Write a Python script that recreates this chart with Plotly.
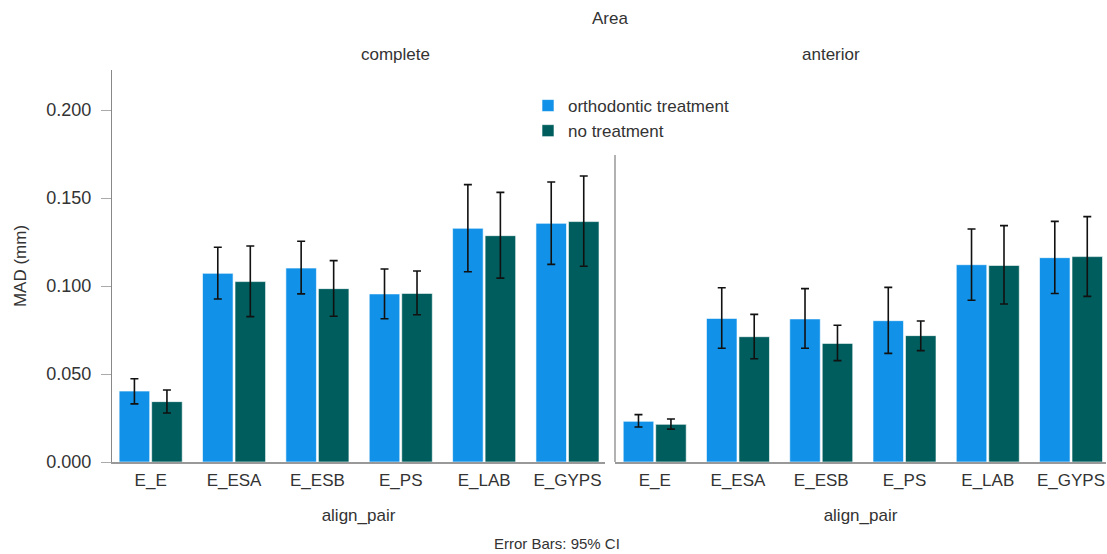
import plotly.graph_objects as go

categories = ["E_E", "E_ESA", "E_ESB", "E_PS", "E_LAB", "E_GYPS"]
series_names = ["orthodontic treatment", "no treatment"]
panel_names = ["complete", "anterior"]

complete_ortho_mean = [0.0403, 0.1072, 0.1102, 0.0955, 0.1328, 0.1356]
complete_ortho_lo = [0.0330, 0.0926, 0.0955, 0.0814, 0.1081, 0.1123]
complete_ortho_hi = [0.0473, 0.1220, 0.1254, 0.1097, 0.1576, 0.1591]
complete_none_mean = [0.0343, 0.1025, 0.0985, 0.0958, 0.1286, 0.1366]
complete_none_lo = [0.0278, 0.0826, 0.0828, 0.0837, 0.1045, 0.1112]
complete_none_hi = [0.0409, 0.1227, 0.1144, 0.1085, 0.1532, 0.1625]

anterior_ortho_mean = [0.0231, 0.0816, 0.0813, 0.0803, 0.1121, 0.1161]
anterior_ortho_lo = [0.0199, 0.0646, 0.0646, 0.0617, 0.0919, 0.0957]
anterior_ortho_hi = [0.0269, 0.0990, 0.0985, 0.0992, 0.1324, 0.1367]
anterior_none_mean = [0.0214, 0.0712, 0.0674, 0.0718, 0.1117, 0.1167]
anterior_none_lo = [0.0187, 0.0587, 0.0576, 0.0633, 0.0898, 0.0941]
anterior_none_hi = [0.0244, 0.0839, 0.0777, 0.0801, 0.1343, 0.1394]

y_ticks = [0.0, 0.05, 0.10, 0.15, 0.20]
y_ticktext = ["0.000", "0.050", "0.100", "0.150", "0.200"]

colors = ["#1192e8", "#005d5d"]
FONT = "Liberation Sans, Arial, sans-serif"
TXT = "#333333"

# reference picture size (positions below are read from it)
W, H = 1107, 554
# page height used for rendering (the screenshot is fitted into 554 px)
H_PAGE = 564

def px(x):
    return x / W
def py(y):
    return (H - y) / H

fig = go.Figure()

panels = [
    ("x", "y", [(complete_ortho_mean, complete_ortho_lo, complete_ortho_hi),
                (complete_none_mean, complete_none_lo, complete_none_hi)]),
    ("x2", "y2", [(anterior_ortho_mean, anterior_ortho_lo, anterior_ortho_hi),
                  (anterior_none_mean, anterior_none_lo, anterior_none_hi)]),
]

for pi, (xa, ya, series) in enumerate(panels):
    for si, (m, lo, hi) in enumerate(series):
        fig.add_trace(go.Bar(
            x=categories, y=m, xaxis=xa, yaxis=ya,
            name=series_names[si], legendgroup=series_names[si],
            showlegend=(pi == 0), offsetgroup=str(si),
            marker=dict(color=colors[si], line=dict(color="rgba(255,255,255,0.6)", width=1)),
            error_y=dict(type="data", symmetric=False,
                         array=[h - v for h, v in zip(hi, m)],
                         arrayminus=[v - l for v, l in zip(m, lo)],
                         color="#111111", thickness=1.6, width=4),
        ))

ytop = (462 - 70) / 352 * 0.2
ydom = [py(462), py(70)]

fig.update_layout(
    width=W, height=H_PAGE,
    margin=dict(l=0, r=0, t=0, b=0),
    paper_bgcolor="white", plot_bgcolor="white",
    barmode="group", bargap=0.22, bargroupgap=0.06,
    font=dict(family=FONT, size=17, color=TXT),
    showlegend=True,
    legend=dict(x=px(528), y=py(88), xanchor="left", yanchor="top",
                bgcolor="rgba(0,0,0,0)", font=dict(size=17, color=TXT),
                itemwidth=30, tracegroupgap=0, traceorder="normal"),
    xaxis=dict(domain=[px(112), px(605)], anchor="y", range=[-0.464, 5.45],
               showline=True, linecolor="#999999", linewidth=1.5, ticks="",
               showgrid=False, zeroline=False, ticklabelstandoff=2,
               title=dict(text="align_pair", standoff=20, font=dict(size=17)),
               tickfont=dict(size=17)),
    xaxis2=dict(domain=[px(615), px(1106)], anchor="y2", range=[-0.477, 5.42],
                showline=True, linecolor="#999999", linewidth=1.5, ticks="",
                showgrid=False, zeroline=False, ticklabelstandoff=2,
                title=dict(text="align_pair", standoff=20, font=dict(size=17)),
                tickfont=dict(size=17)),
    yaxis=dict(domain=ydom, anchor="x", range=[0, ytop],
               tickvals=y_ticks, ticktext=y_ticktext,
               showline=True, linecolor="#888888", linewidth=1.2,
               ticks="outside", ticklen=10, tickcolor="#aaaaaa", tickwidth=1,
               showgrid=False, zeroline=False, ticklabelstandoff=6,
               title=dict(text="MAD (mm)", standoff=15, font=dict(size=17)),
               tickfont=dict(size=18)),
    yaxis2=dict(domain=ydom, anchor="x2", range=[0, ytop], matches="y",
                showline=False, showticklabels=False, ticks="",
                showgrid=False, zeroline=False),
)

# partial separator line of the right panel
fig.add_shape(type="line", xref="paper", yref="y2",
              x0=px(615), x1=px(615), y0=0, y1=(462 - 155) / 352 * 0.2,
              line=dict(color="#999999", width=1.5))

fig.add_annotation(text="Area", xref="paper", yref="paper", x=px(610), y=py(18),
                   yanchor="middle", showarrow=False, font=dict(size=17, color=TXT))
fig.add_annotation(text=panel_names[0], xref="paper", yref="paper", x=px(358.5), y=py(54),
                   yanchor="middle", showarrow=False, font=dict(size=17, color=TXT))
fig.add_annotation(text=panel_names[1], xref="paper", yref="paper", x=px(862), y=py(54),
                   yanchor="middle", showarrow=False, font=dict(size=17, color=TXT))
fig.add_annotation(text="Error Bars: 95% CI", xref="paper", yref="paper", x=px(557), y=py(543),
                   yanchor="middle", showarrow=False, font=dict(size=15, color=TXT))

fig.write_html("out.html", config={"displayModeBar": False},
               post_script="document.body.style.margin='0';")
